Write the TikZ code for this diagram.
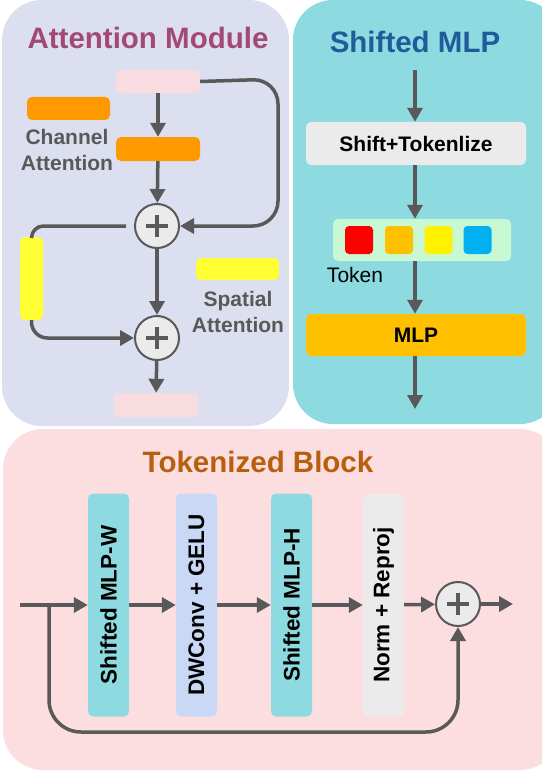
\documentclass[tikz,border=0pt]{standalone}
\usepackage{fontspec}
\setmainfont{Liberation Sans}
\usetikzlibrary{arrows.meta}
\definecolor{lav}{HTML}{DCDFF0}
\definecolor{teal}{HTML}{8DDBE0}
\definecolor{rose}{HTML}{FCDDE0}
\definecolor{lpink}{HTML}{F9DCE0}
\definecolor{arrgray}{HTML}{595959}
\definecolor{orng}{HTML}{FF9900}
\definecolor{ylw}{HTML}{FFFF33}
\definecolor{gold}{HTML}{FFC000}
\definecolor{sky}{HTML}{00B0F0}
\definecolor{lgreen}{HTML}{C8F8D4}
\definecolor{lgray}{HTML}{EBEBEB}
\definecolor{lblue}{HTML}{C9D8F5}
\definecolor{plum}{HTML}{A24A73}
\definecolor{navy}{HTML}{1F5C99}
\definecolor{rust}{HTML}{B85F0E}
\begin{document}
\begin{tikzpicture}[x=1pt, y=-1pt,
  flow/.style={draw=arrgray, line width=3.5pt, -{Triangle[length=14pt,width=15pt]}},
  blk/.style={inner sep=0pt, rounded corners=5pt},
  title/.style={font=\fontsize{29.5}{34}\selectfont\bfseries},
  lbl/.style={font=\fontsize{21}{26}\selectfont\bfseries, align=center},
  vlbl/.style={font=\fontsize{22.5}{26}\selectfont\bfseries, rotate=90},
  addop/.style={circle, minimum size=44pt, inner sep=0pt, fill=lgray, draw=arrgray, line width=2pt,
    path picture={\draw[arrgray, line width=3.5pt]
      ([xshift=-11pt]path picture bounding box.center) -- ([xshift=11pt]path picture bounding box.center)
      ([yshift=-11pt]path picture bounding box.center) -- ([yshift=11pt]path picture bounding box.center);}}]
  \useasboundingbox (0,0) rectangle (541,773);
  % panels
  \fill[lav, rounded corners=40pt] (2,0) rectangle (289,426);
  \fill[teal, rounded corners=40pt] (293,0) rectangle (560,424);
  \fill[rose, rounded corners=40pt] (3,429) rectangle (560,770);

  % attention module
  \node[title, text=plum] (attT) at (148,38) {Attention Module};
  \node[blk, fill=lpink, minimum width=84pt, minimum height=23pt] (xin) at (158,81.5) {};
  \node[blk, fill=orng, minimum width=83pt, minimum height=23pt] (chKey) at (68.5,108.5) {};
  \node[lbl, text=arrgray] (chTxt) at (67,150) {Channel\\Attention};
  \node[blk, fill=orng, minimum width=84pt, minimum height=24pt] (ch) at (158,149) {};
  \node[addop] (add1) at (157,226) {};
  \node[blk, fill=ylw, minimum width=23pt, minimum height=83pt] (sp) at (31.5,278.5) {};
  \node[blk, fill=ylw, minimum width=83pt, minimum height=22pt] (spKey) at (237.5,269) {};
  \node[lbl, text=arrgray] (spTxt) at (238,312) {Spatial\\Attention};
  \node[addop] (add2) at (157,338) {};
  \node[blk, fill=lpink, minimum width=84pt, minimum height=24pt] (xout) at (156,405) {};
  \draw[flow] (xin) -- (ch);
  \draw[flow] (ch) -- (add1);
  \draw[flow, rounded corners=25pt] (xin.east) -- (278,79) -- (278,226) -- (add1.east);
  \draw[draw=arrgray, line width=3.5pt, rounded corners=12pt, shorten <=8pt] (add1.west) -- (sp.north |- add1.west) -- (sp.north);
  \draw[flow, rounded corners=16pt] (sp.south) -- (sp.south |- add2.west) -- (add2.west);
  \draw[flow] (add1) -- (add2);
  \draw[flow] (add2) -- (xout);

  % shifted mlp
  \node[title, text=navy] (mlpT) at (415,42) {Shifted MLP};
  \coordinate (mlpIn) at (415,70);
  \node[blk, fill=lgray, minimum width=220pt, minimum height=43pt, lbl, text=black] (shift) at (416,143.5) {Shift+Tokenlize};
  \node[blk, fill=lgreen, minimum width=178pt, minimum height=42pt] (tok) at (422,240) {};
  \node[blk, fill=red, minimum size=28pt, rounded corners=4pt] (t1) at (359,240) {};
  \node[blk, fill=gold, minimum size=28pt, rounded corners=4pt] (t2) at (399,240) {};
  \node[blk, fill=yellow, minimum size=28pt, rounded corners=4pt] (t3) at (438.5,240) {};
  \node[blk, fill=sky, minimum size=28pt, rounded corners=4pt] (t4) at (477.5,240) {};
  \node[font=\fontsize{21}{24}\selectfont] (tokTxt) at (355,275) {Token};
  \node[blk, fill=gold, minimum width=220pt, minimum height=42pt, lbl, text=black] (mlp) at (416,335) {MLP};
  \coordinate (mlpOut) at (415,409);
  \draw[flow] (mlpIn) -- (mlpIn |- shift.north);
  \draw[flow] (shift.south -| mlpIn) -- (mlpIn |- tok.north);
  \draw[flow] (tok.south -| mlpIn) -- (mlpIn |- mlp.north);
  \draw[flow] (mlp.south -| mlpIn) -- (mlpOut);

  % tokenized block
  \node[title, text=rust] (tbT) at (258,462) {Tokenized Block};
  \coordinate (tbIn) at (20,605);
  \node[blk, fill=teal, minimum width=41pt, minimum height=223pt] (mlpw) at (108.5,605) {};
  \node[blk, fill=lblue, minimum width=41pt, minimum height=223pt] (dw) at (196.5,605) {};
  \node[blk, fill=teal, minimum width=41pt, minimum height=223pt] (mlph) at (291.5,605) {};
  \node[blk, fill=lgray, minimum width=41pt, minimum height=223pt] (norm) at (383.5,605) {};
  \node[vlbl] at (mlpw) {Shifted MLP-W};
  \node[vlbl] at (dw) {DWConv + GELU};
  \node[vlbl] at (mlph) {Shifted MLP-H};
  \node[vlbl] at (norm) {Norm + Reproj};
  \node[addop] (add3) at (458,604) {};
  \coordinate (tbOut) at (513,604);
  \draw[flow] (tbIn) -- (mlpw);
  \draw[flow] (mlpw) -- (dw);
  \draw[flow] (dw) -- (mlph);
  \draw[flow] (mlph) -- (norm);
  \draw[flow] (norm) -- (add3);
  \draw[flow] (add3) -- (tbOut);
  \draw[flow, rounded corners=32pt] (49,605) -- (49,732) -- (add3.south |- 0,732) -- (add3.south);
\end{tikzpicture}
\end{document}
